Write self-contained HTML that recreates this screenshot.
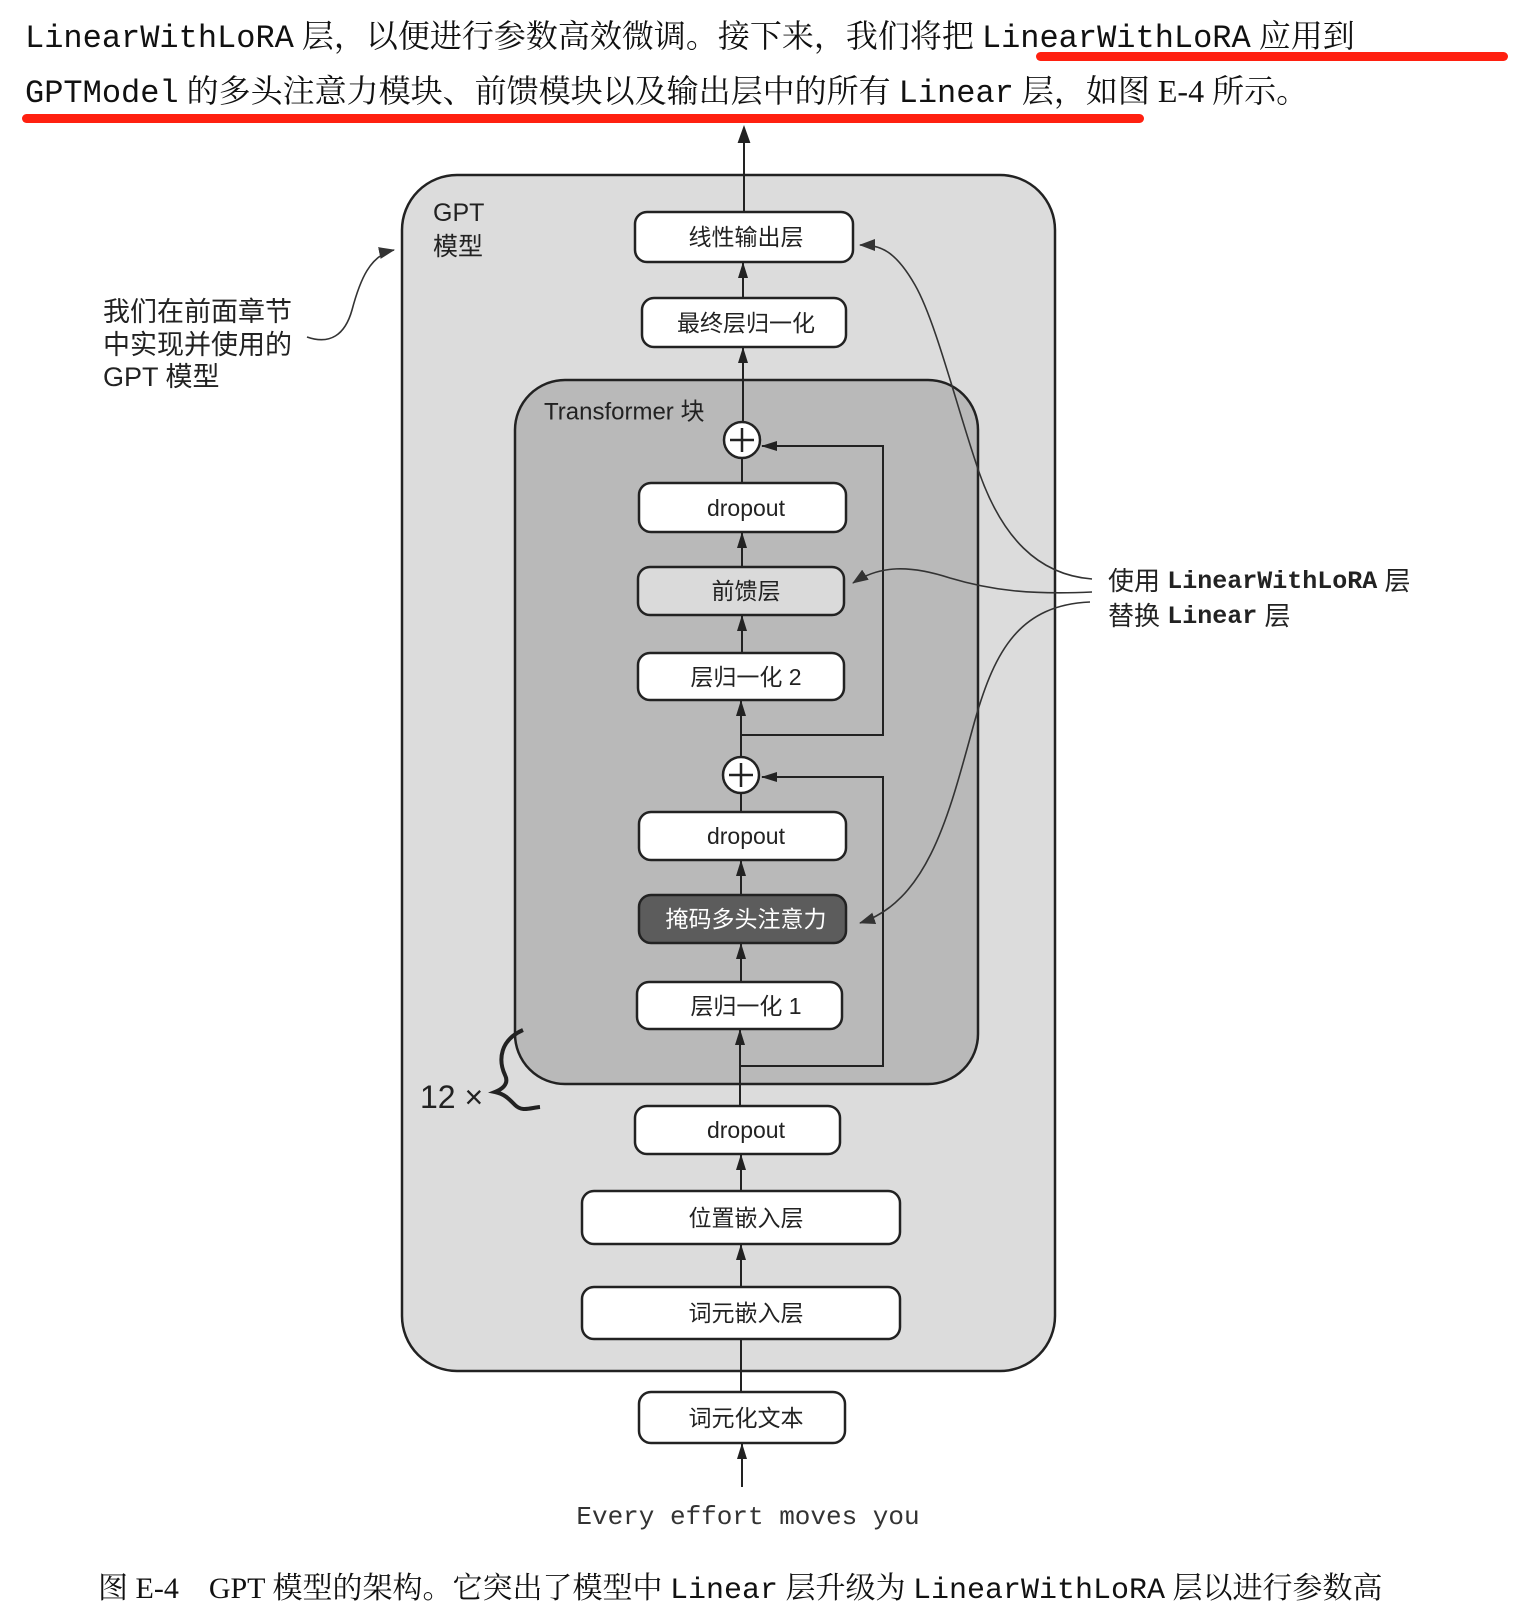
<!DOCTYPE html>
<html><head><meta charset="utf-8"><style>
html,body{margin:0;padding:0;background:#fff;}
body{width:1540px;height:1608px;position:relative;overflow:hidden;}
.t{position:absolute;white-space:nowrap;font-family:"Liberation Serif","Noto Serif CJK SC",serif;font-size:32px;color:#111;}
.m{font-family:"Liberation Mono","Noto Sans CJK SC",monospace;}
</style></head><body>
<div class="t" style="left:25px;top:11px;"><span class="m">LinearWithLoRA</span> 层，以便进行参数高效微调。接下来，我们将把 <span class="m">LinearWithLoRA</span> 应用到</div>
<div class="t" style="left:25px;top:66px;"><span class="m">GPTModel</span> 的多头注意力模块、前馈模块以及输出层中的所有 <span class="m">Linear</span> 层，如图 E-4 所示。</div>
<div style="position:absolute;left:1036px;top:52px;width:472px;height:9px;background:#ff2010;border-radius:5px"></div>
<div style="position:absolute;left:22px;top:114px;width:1122px;height:9px;background:#ff2010;border-radius:5px"></div>

<svg width="1540" height="1608" style="position:absolute;left:0;top:0" xmlns="http://www.w3.org/2000/svg" font-family="Liberation Sans, Noto Sans CJK SC, sans-serif">
<defs><marker id="a" markerWidth="10" markerHeight="10" refX="9" refY="5" orient="auto" markerUnits="userSpaceOnUse"><path d="M0,0 L10,5 L0,10 z" fill="#222"/></marker>
<marker id="b" markerWidth="16" markerHeight="12" refX="15" refY="6" orient="auto" markerUnits="userSpaceOnUse"><path d="M0,0 L16,6 L0,12 z" fill="#333"/></marker></defs>
<g stroke="#222" stroke-width="2">
<rect x="402" y="175" width="653" height="1196" rx="55" fill="#dcdcdc" stroke-width="2.5"/>
<rect x="515" y="380" width="463" height="704" rx="50" fill="#b9b9b9" stroke-width="2.5"/>
<line x1="744" y1="140" x2="744" y2="212" /><path d="M744,128 l-5,14 h10z" fill="#222"/>
<line x1="743" y1="262" x2="743" y2="298"/>
<line x1="743" y1="347" x2="743" y2="422"/>
<line x1="742" y1="458" x2="742" y2="483"/>
<line x1="742" y1="532" x2="742" y2="567"/>
<line x1="742" y1="615" x2="742" y2="653"/>
<line x1="741" y1="700" x2="741" y2="757"/>
<line x1="741" y1="793" x2="741" y2="812"/>
<line x1="741" y1="860" x2="741" y2="895"/>
<line x1="741" y1="943" x2="741" y2="982"/>
<line x1="740" y1="1029" x2="740" y2="1106"/>
<line x1="741" y1="1154" x2="741" y2="1191"/>
<line x1="741" y1="1244" x2="741" y2="1287"/>
<line x1="741" y1="1339" x2="741" y2="1392"/>
<line x1="742" y1="1443" x2="742" y2="1487"/>
<polyline points="741,735 883,735 883,446 762,446" fill="none"/>
<polyline points="740,1066 883,1066 883,777 762,777" fill="none"/>
</g>
<g fill="#222">
<path d="M743,262 l-5,16 h10z"/><path d="M743,347 l-5,16 h10z"/>
<path d="M742,532 l-5,16 h10z"/><path d="M742,615 l-5,16 h10z"/><path d="M741,700 l-5,16 h10z"/>
<path d="M741,860 l-5,16 h10z"/><path d="M741,943 l-5,16 h10z"/><path d="M740,1029 l-5,16 h10z"/>
<path d="M741,1154 l-5,16 h10z"/><path d="M741,1244 l-5,16 h10z"/><path d="M742,1443 l-5,16 h10z"/>
<path d="M761,446 l16,-5 v10z"/><path d="M761,777 l16,-5 v10z"/>
</g>
<g stroke="#222" stroke-width="2.5" fill="#fff">
<circle cx="742" cy="440" r="18"/><circle cx="741" cy="775" r="18"/>
</g>
<g stroke="#222" stroke-width="2.5">
<line x1="730" y1="440" x2="754" y2="440"/><line x1="742" y1="428" x2="742" y2="452"/>
<line x1="729" y1="775" x2="753" y2="775"/><line x1="741" y1="763" x2="741" y2="787"/>
</g>
<g stroke="#222" stroke-width="2.5" fill="#fff">
<rect x="635" y="212" width="218" height="50" rx="12"/>
<rect x="642" y="298" width="204" height="49" rx="12"/>
<rect x="639" y="483" width="207" height="49" rx="12"/>
<rect x="638" y="567" width="206" height="48" rx="12" fill="#dadada"/>
<rect x="638" y="653" width="206" height="47" rx="12"/>
<rect x="639" y="812" width="207" height="48" rx="12"/>
<rect x="639" y="895" width="207" height="48" rx="12" fill="#5c5c5c"/>
<rect x="637" y="982" width="205" height="47" rx="12"/>
<rect x="635" y="1106" width="205" height="48" rx="12"/>
<rect x="582" y="1191" width="318" height="53" rx="12"/>
<rect x="582" y="1287" width="318" height="52" rx="12"/>
<rect x="639" y="1392" width="206" height="51" rx="12"/>
</g>
<g font-size="23" fill="#222" text-anchor="middle" dominant-baseline="central">
<text x="746" y="237">线性输出层</text>
<text x="746" y="323">最终层归一化</text>
<text x="746" y="508">dropout</text>
<text x="746" y="591">前馈层</text>
<text x="746" y="677">层归一化 2</text>
<text x="746" y="836">dropout</text>
<text x="746" y="919" fill="#fff">掩码多头注意力</text>
<text x="746" y="1006">层归一化 1</text>
<text x="746" y="1130">dropout</text>
<text x="746" y="1218">位置嵌入层</text>
<text x="746" y="1313">词元嵌入层</text>
<text x="746" y="1418">词元化文本</text>
</g>
<g font-size="25" fill="#222" dominant-baseline="central">
<text x="433" y="213">GPT</text><text x="433" y="247">模型</text>
<text x="544" y="412" font-size="24">Transformer 块</text>
<text x="420" y="1097" font-size="32">12 ×</text>
</g>
<path d="M523,1030 C500,1040 498,1060 505,1075 C510,1085 500,1090 495,1092 C505,1094 510,1100 515,1105 C522,1112 530,1108 540,1107" fill="none" stroke="#222" stroke-width="4"/>
<g font-size="27" fill="#222" dominant-baseline="central">
<text x="103" y="312">我们在前面章节</text>
<text x="103" y="345">中实现并使用的</text>
<text x="103" y="377">GPT 模型</text>
</g>
<g fill="none" stroke="#333" stroke-width="1.6">
<path d="M307,337 C330,345 345,335 352,310 C360,280 370,255 394,250" marker-end="url(#b)"/>
<path d="M1092,579 C1040,575 1000,540 975,460 C955,400 935,320 915,285 C895,250 880,245 860,245" marker-end="url(#b)"/>
<path d="M1092,592 C1030,595 990,590 950,578 C910,565 880,565 853,583" marker-end="url(#b)"/>
<path d="M1090,602 C1020,605 995,650 975,720 C950,810 930,900 860,923" marker-end="url(#b)"/>
</g>
<g font-size="26" fill="#222" dominant-baseline="central">
<text x="1108" y="581">使用 <tspan font-family="Liberation Mono, monospace" font-weight="bold" font-size="25">LinearWithLoRA</tspan> 层</text>
<text x="1108" y="616">替换 <tspan font-family="Liberation Mono, monospace" font-weight="bold" font-size="25">Linear</tspan> 层</text>
</g>
<text x="748" y="1517" font-size="26" font-family="Liberation Mono, monospace" fill="#333" text-anchor="middle" dominant-baseline="central">Every effort moves you</text>
</svg>
<div class="t" style="left:98px;top:1563px;font-size:30px;">图 E-4　GPT 模型的架构。它突出了模型中 <span class="m">Linear</span> 层升级为 <span class="m">LinearWithLoRA</span> 层以进行参数高</div>
</body></html>
